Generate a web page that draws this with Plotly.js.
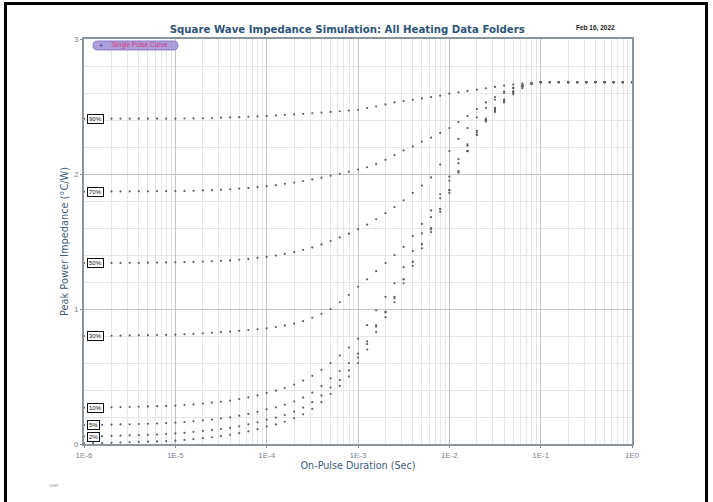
<!DOCTYPE html>
<html>
<head>
<meta charset="utf-8">
<script src="https://cdn.plot.ly/plotly-3.0.1.min.js"></script>
<style>
html,body{margin:0;padding:0;width:713px;height:502px;overflow:hidden;background:#fff;}
#chart{position:absolute;left:0;top:0;width:713px;height:502px;}
#frame{position:absolute;left:4px;top:2px;width:698px;height:530px;border:3px solid #000;pointer-events:none;}
</style>
</head>
<body>
<div id="chart"></div>
<div id="frame"></div>
<script>
// On-pulse duration (s)
var pulseDuration = [
  1e-6,1.26e-6,1.58e-6,2e-6,2.51e-6,3.16e-6,3.98e-6,5.01e-6,6.31e-6,7.94e-6,
  1e-5,1.26e-5,1.58e-5,2e-5,2.51e-5,3.16e-5,3.98e-5,5.01e-5,6.31e-5,7.94e-5,
  1e-4,1.26e-4,1.58e-4,2e-4,2.51e-4,3.16e-4,3.98e-4,5.01e-4,6.31e-4,7.94e-4,
  1e-3,1.26e-3,1.58e-3,2e-3,2.51e-3,3.16e-3,3.98e-3,5.01e-3,6.31e-3,7.94e-3,
  1e-2,1.26e-2,1.58e-2,2e-2,2.51e-2,3.16e-2,3.98e-2,5.01e-2,6.31e-2,7.94e-2,
  1e-1,1.26e-1,1.58e-1,2e-1,2.51e-1,3.16e-1,3.98e-1,5.01e-1,6.31e-1,7.94e-1,
  1
];

// Peak power impedance (°C/W) per duty cycle
var z90 = [
  2.410,2.410,2.410,2.410,2.410,2.410,2.410,2.410,2.410,2.410,
  2.410,2.411,2.412,2.413,2.415,2.417,2.419,2.421,2.424,2.427,
  2.430,2.434,2.438,2.442,2.446,2.450,2.455,2.460,2.465,2.470,
  2.476,2.488,2.500,2.515,2.530,2.540,2.550,2.560,2.570,2.580,
  2.595,2.605,2.615,2.625,2.635,2.645,2.655,2.663,2.670,2.675,
  2.680,2.680,2.680,2.680,2.680,2.680,2.680,2.680,2.680,2.680,
  2.680
];
var z70 = [
  1.870,1.870,1.870,1.871,1.871,1.871,1.872,1.872,1.873,1.873,
  1.874,1.875,1.876,1.878,1.880,1.883,1.887,1.892,1.897,1.903,
  1.910,1.918,1.927,1.937,1.948,1.960,1.973,1.987,2.002,2.017,
  2.033,2.050,2.075,2.105,2.140,2.175,2.205,2.240,2.270,2.305,
  2.340,2.385,2.430,2.480,2.530,2.570,2.610,2.640,2.660,2.672,
  2.680,2.680,2.680,2.680,2.680,2.680,2.680,2.680,2.680,2.680,
  2.680
];
var z50 = [
  1.340,1.340,1.340,1.341,1.341,1.342,1.342,1.343,1.344,1.345,
  1.346,1.347,1.349,1.351,1.353,1.356,1.360,1.365,1.371,1.378,
  1.386,1.396,1.408,1.422,1.438,1.456,1.478,1.503,1.530,1.558,
  1.590,1.625,1.665,1.710,1.755,1.805,1.860,1.915,1.975,2.070,
  2.170,2.260,2.340,2.420,2.490,2.550,2.600,2.635,2.655,2.670,
  2.680,2.680,2.680,2.680,2.680,2.680,2.680,2.680,2.680,2.680,
  2.680
];
var z30 = [
  0.800,0.800,0.801,0.802,0.803,0.804,0.805,0.806,0.807,0.808,
  0.810,0.813,0.816,0.820,0.824,0.828,0.833,0.838,0.844,0.850,
  0.857,0.866,0.878,0.892,0.910,0.935,0.965,1.000,1.050,1.105,
  1.165,1.220,1.280,1.340,1.400,1.460,1.540,1.630,1.730,1.850,
  1.980,2.110,2.220,2.310,2.390,2.460,2.530,2.590,2.635,2.665,
  2.680,2.680,2.680,2.680,2.680,2.680,2.680,2.680,2.680,2.680,
  2.680
];
var z10 = [
  0.270,0.270,0.271,0.272,0.273,0.274,0.276,0.278,0.280,0.282,
  0.285,0.289,0.294,0.300,0.306,0.313,0.322,0.333,0.345,0.360,
  0.378,0.395,0.415,0.440,0.470,0.505,0.550,0.600,0.655,0.715,
  0.780,0.880,0.990,1.090,1.190,1.310,1.430,1.560,1.680,1.820,
  1.950,2.080,2.210,2.320,2.410,2.490,2.550,2.610,2.650,2.670,
  2.680,2.680,2.680,2.680,2.680,2.680,2.680,2.680,2.680,2.680,
  2.680
];
var z5 = [
  0.140,0.141,0.142,0.143,0.145,0.146,0.148,0.150,0.152,0.155,
  0.158,0.163,0.168,0.175,0.181,0.189,0.198,0.210,0.223,0.238,
  0.257,0.272,0.291,0.315,0.343,0.381,0.429,0.486,0.540,0.600,
  0.670,0.760,0.880,0.980,1.090,1.220,1.350,1.480,1.600,1.740,
  1.880,2.020,2.170,2.290,2.390,2.470,2.540,2.600,2.645,2.670,
  2.680,2.680,2.680,2.680,2.680,2.680,2.680,2.680,2.680,2.680,
  2.680
];
var z2 = [
  0.055,0.056,0.058,0.060,0.062,0.064,0.066,0.068,0.070,0.074,
  0.078,0.083,0.090,0.097,0.104,0.111,0.120,0.131,0.146,0.161,
  0.181,0.196,0.215,0.240,0.270,0.310,0.360,0.420,0.475,0.545,
  0.640,0.740,0.870,0.975,1.080,1.220,1.350,1.480,1.590,1.740,
  1.880,2.020,2.170,2.290,2.400,2.480,2.550,2.610,2.650,2.670,
  2.680,2.680,2.680,2.680,2.680,2.680,2.680,2.680,2.680,2.680,
  2.680
];
var zSingle = [
  0.005,0.006,0.007,0.009,0.011,0.013,0.015,0.017,0.019,0.022,
  0.025,0.030,0.036,0.043,0.050,0.058,0.068,0.080,0.094,0.110,
  0.130,0.145,0.165,0.190,0.220,0.260,0.310,0.370,0.430,0.500,
  0.600,0.700,0.830,0.940,1.050,1.190,1.320,1.450,1.570,1.720,
  1.860,2.010,2.170,2.290,2.400,2.480,2.550,2.610,2.650,2.670,
  2.680,2.680,2.680,2.680,2.680,2.680,2.680,2.680,2.680,2.680,
  2.680
];

var dutySeries = [z90, z70, z50, z30, z10, z5, z2];
var dutyLabels = ['90%', '70%', '50%', '30%', '10%', '5%', '2%'];
var xTickVals = [1e-6, 1e-5, 1e-4, 1e-3, 1e-2, 1e-1, 1];
var xTickText = ['1E-6', '1E-5', '1E-4', '1E-3', '1E-2', '1E-1', '1E0'];
var yTickVals = [0, 1, 2, 3];
var legendName = 'Single Pulse Curve';

var dotMarker = {size: 2.2, color: '#606060', symbol: 'circle'};
var traces = dutySeries.map(function (ys, k) {
  return {x: pulseDuration, y: ys, type: 'scatter', mode: 'markers',
          marker: dotMarker, name: dutyLabels[k], showlegend: false};
});
traces.push({x: pulseDuration, y: zSingle, type: 'scatter', mode: 'markers',
             marker: dotMarker, name: legendName, showlegend: false});

var annotations = dutySeries.map(function (ys, k) {
  return {x: Math.log10(pulseDuration[0]), y: ys[0], xref: 'x', yref: 'y',
          text: dutyLabels[k], showarrow: false, xanchor: 'left', yanchor: 'middle',
          xshift: 3, font: {family: 'Liberation Sans, Arial', size: 6, color: '#111'},
          bgcolor: '#ffffff', bordercolor: '#111', borderwidth: 1, borderpad: 1};
});
annotations.push({x: 0.9325, y: 1.028, xref: 'paper', yref: 'paper', text: '<b>Feb 16, 2022</b>',
  showarrow: false, xanchor: 'center', yanchor: 'middle',
  font: {family: 'Liberation Sans, Arial', size: 6.5, color: '#222'}});
annotations.push({x: 0.0305, y: 0.984, xref: 'paper', yref: 'paper', text: '+',
  showarrow: false, xanchor: 'center', yanchor: 'middle',
  font: {family: 'Liberation Sans, Arial', size: 7, color: '#2a3a8a'}});
annotations.push({x: 0.103, y: 0.984, xref: 'paper', yref: 'paper', text: legendName,
  showarrow: false, xanchor: 'center', yanchor: 'middle',
  font: {family: 'Liberation Sans, Arial', size: 6.5, color: '#d2367a'}});
annotations.push({x: -0.055, y: -0.1, xref: 'paper', yref: 'paper', text: 'user',
  showarrow: false, xanchor: 'center', yanchor: 'middle',
  font: {family: 'Liberation Sans, Arial', size: 5, color: '#999'}});

// rounded legend pill (paper coords)
var x0 = 0.0164, x1 = 0.1715, yb = 0.973, yt = 0.995, rx = 0.0082, ym = (yb + yt) / 2;
var pill = 'M ' + (x0 + rx) + ' ' + yt + ' L ' + (x1 - rx) + ' ' + yt +
  ' Q ' + x1 + ' ' + yt + ' ' + x1 + ' ' + ym + ' Q ' + x1 + ' ' + yb + ' ' + (x1 - rx) + ' ' + yb +
  ' L ' + (x0 + rx) + ' ' + yb + ' Q ' + x0 + ' ' + yb + ' ' + x0 + ' ' + ym +
  ' Q ' + x0 + ' ' + yt + ' ' + (x0 + rx) + ' ' + yt + ' Z';

var layout = {
  width: 713, height: 502,
  margin: {l: 84, r: 81, t: 39, b: 58},
  paper_bgcolor: '#ffffff', plot_bgcolor: '#ffffff',
  showlegend: false,
  font: {family: 'Liberation Sans, Arial, sans-serif'},
  title: {text: '<b>Square Wave Impedance Simulation: All Heating Data Folders</b>',
          x: 0.487, xref: 'container', xanchor: 'center', y: 0.942, yref: 'container', yanchor: 'middle',
          font: {family: 'DejaVu Sans, Verdana', size: 10.2, color: '#2e5577'}},
  xaxis: {type: 'log', range: [-6, 0], tickmode: 'array', tickvals: xTickVals, ticktext: xTickText,
          tickfont: {size: 8, color: '#7a8590'}, ticks: 'outside', ticklen: 2, tickcolor: '#888',
          showline: true, linecolor: '#8a959c', linewidth: 2, mirror: true,
          showgrid: true, gridcolor: '#c4c4c4', gridwidth: 1,
          minor: {dtick: 'D1', showgrid: true, gridcolor: '#e6e6e6', gridwidth: 1, ticks: ''},
          title: {text: 'On-Pulse Duration (Sec)', standoff: 2,
                  font: {family: 'DejaVu Sans, Verdana', size: 9.6, color: '#3d5c7a'}}},
  yaxis: {range: [0, 3], tickmode: 'array', tickvals: yTickVals,
          tickfont: {size: 8, color: '#7a8590'}, ticks: 'outside', ticklen: 2, tickcolor: '#888',
          showline: true, linecolor: '#8a959c', linewidth: 2, mirror: true, zeroline: false,
          showgrid: true, gridcolor: '#c4c4c4', gridwidth: 1,
          minor: {dtick: 0.2, showgrid: true, gridcolor: '#e6e6e6', gridwidth: 1, ticks: ''},
          title: {text: 'Peak Power Impedance (°C/W)', standoff: 4,
                  font: {family: 'DejaVu Sans, Verdana', size: 9.8, color: '#3d5c7a'}}},
  shapes: [{type: 'path', xref: 'paper', yref: 'paper', path: pill,
            fillcolor: 'rgba(165,148,214,0.9)', line: {color: '#8a78c8', width: 1}, layer: 'above'}],
  annotations: annotations
};

Plotly.newPlot('chart', traces, layout, {displayModeBar: false, staticPlot: true});
</script>
</body>
</html>
